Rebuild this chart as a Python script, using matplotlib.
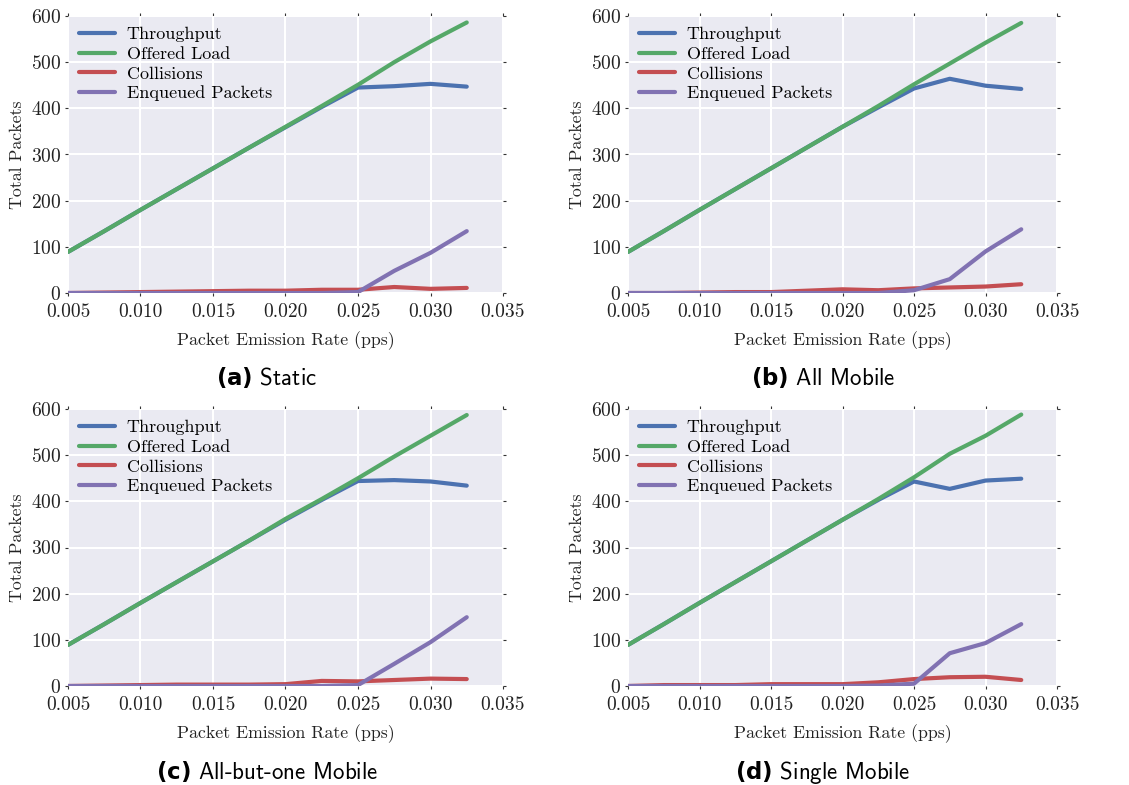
import numpy as np
import matplotlib
matplotlib.use("Agg")
import matplotlib.pyplot as plt

# packet emission rate (pps)
rate = [0.005, 0.0075, 0.010, 0.0125, 0.015, 0.0175, 0.020, 0.0225, 0.025, 0.0275, 0.030, 0.0325]

# (a) Static
a_throughput = [89, 134, 180, 225, 270, 315, 359, 403, 445, 448, 453, 447]
a_offered = [89, 134, 180, 225, 270, 315, 360, 405, 451, 500, 545, 586]
a_collisions = [0, 1, 2, 3, 4, 5, 5, 7, 7, 13, 9, 11]
a_enqueued = [0, 0, 0, 0, 0, 0, 0, 0, 2, 48, 87, 134]

# (b) All Mobile
b_throughput = [89, 134, 180, 225, 270, 315, 360, 402, 443, 464, 449, 442]
b_offered = [89, 134, 180, 225, 270, 315, 360, 405, 452, 497, 542, 585]
b_collisions = [0, 0, 1, 2, 2, 5, 8, 6, 10, 12, 14, 19]
b_enqueued = [0, 0, 0, 0, 0, 0, 0, 0, 6, 30, 90, 138]

# (c) All-but-one Mobile
c_throughput = [89, 134, 180, 225, 270, 315, 360, 403, 444, 446, 443, 434]
c_offered = [89, 134, 180, 225, 270, 315, 362, 405, 450, 497, 542, 587]
c_collisions = [0, 1, 2, 3, 3, 3, 4, 11, 10, 13, 16, 15]
c_enqueued = [0, 0, 0, 0, 0, 0, 0, 0, 2, 48, 95, 149]

# (d) Single Mobile
d_throughput = [89, 134, 180, 225, 270, 315, 360, 403, 443, 427, 445, 449]
d_offered = [89, 134, 180, 225, 270, 315, 360, 405, 452, 503, 542, 588]
d_collisions = [0, 2, 2, 2, 4, 4, 4, 8, 15, 19, 20, 13]
d_enqueued = [0, 0, 0, 0, 0, 0, 0, 1, 5, 71, 93, 134]

panels = [
    ("(a)", "Static", a_throughput, a_offered, a_collisions, a_enqueued),
    ("(b)", "All Mobile", b_throughput, b_offered, b_collisions, b_enqueued),
    ("(c)", "All-but-one Mobile", c_throughput, c_offered, c_collisions, c_enqueued),
    ("(d)", "Single Mobile", d_throughput, d_offered, d_collisions, d_enqueued),
]

series_names = ["Throughput", "Offered Load", "Collisions", "Enqueued Packets"]
colors = ["#4C72B0", "#55A868", "#C44E52", "#8172B2"]

plt.rcParams["font.family"] = ["cmr10", "DejaVu Serif"]
plt.rcParams["axes.formatter.use_mathtext"] = True
plt.rcParams["mathtext.fontset"] = "custom"
plt.rcParams["mathtext.bf"] = "DejaVu Sans:bold"
plt.rcParams["mathtext.rm"] = "cmss10"

W, H = 1129, 785
fig = plt.figure(figsize=(W / 100, H / 100), dpi=100)

# axes boxes in pixels: left, top, right, bottom
boxes = [(68, 16, 503, 293), (628, 16, 1057, 293),
         (68, 409, 503, 686), (628, 409, 1057, 686)]
caption_pos = [(267, 377), (823, 377), (267, 772), (823, 772)]

for (tag, name, thr, off, col, enq), (l, t, r, b), (cx, cy) in zip(panels, boxes, caption_pos):
    ax = fig.add_axes([l / W, 1 - b / H, (r - l) / W, (b - t) / H])
    ax.set_facecolor("#EAEAF2")
    for s in ax.spines.values():
        s.set_visible(False)
    ax.grid(True, color="white", linewidth=1.5)
    ax.set_axisbelow(True)
    for vals, c, lab in zip([thr, off, col, enq], colors, series_names):
        ax.plot(rate, vals, color=c, linewidth=3, label=lab, solid_capstyle="round")
    ax.set_xlim(0.005, 0.035)
    ax.set_ylim(0, 600)
    ax.set_xticks(np.arange(0.005, 0.0351, 0.005))
    ax.set_yticks(range(0, 601, 100))
    ax.xaxis.set_major_formatter(matplotlib.ticker.FormatStrFormatter("%.3f"))
    ax.tick_params(direction="out", length=2, width=0.8, color="#333333",
                   labelsize=14, labelcolor="#222222", pad=3,
                   top=True, right=True)
    ax.tick_params(axis="x", pad=5)
    ax.set_xlabel("Packet Emission Rate (pps)", fontsize=12.8, color="#222222", labelpad=8)
    ax.set_ylabel("Total Packets", fontsize=12.8, color="#222222", labelpad=4)
    ax.legend(loc="upper left", frameon=False, fontsize=13, handlelength=2.0,
              labelspacing=0.22, borderaxespad=0.2, handletextpad=0.65)
    fig.text(cx / W, 1 - cy / H, r"$\mathbf{" + tag + "}$ " + name,
             family="cmss10", fontsize=16.5, ha="center", va="center")

fig.savefig("out.png", dpi=100)
